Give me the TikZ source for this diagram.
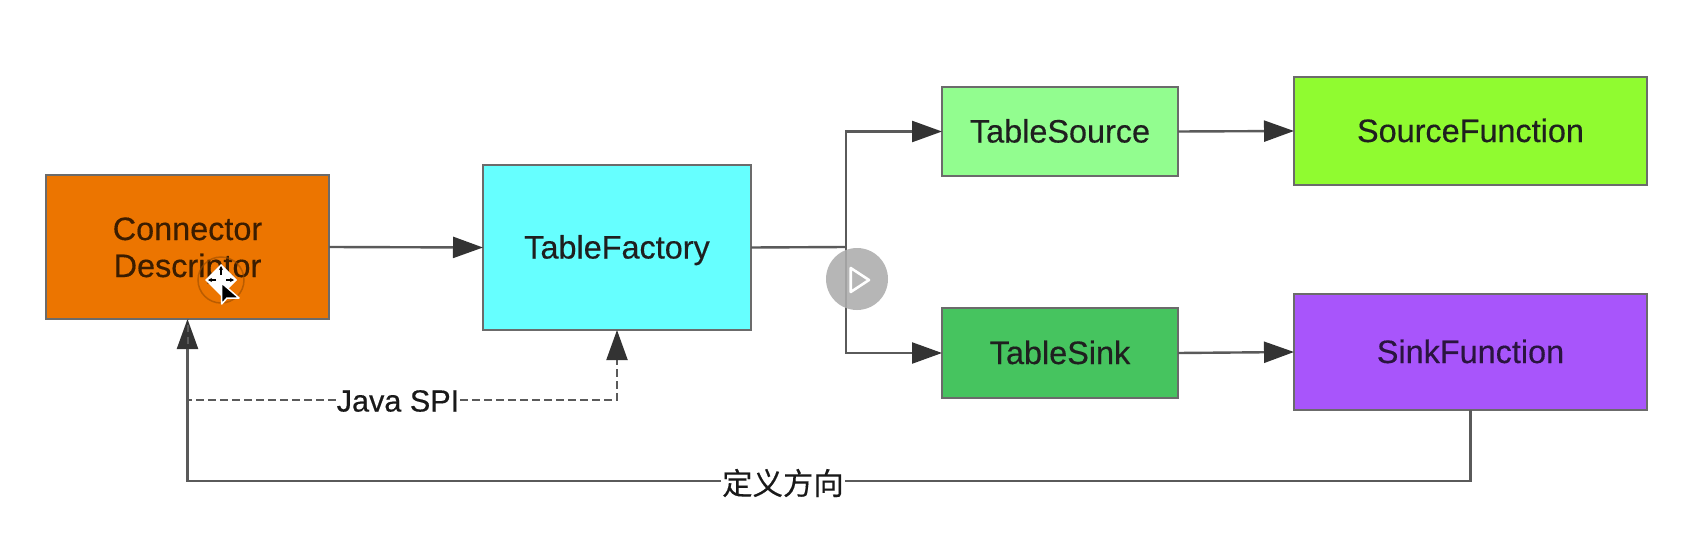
\documentclass[tikz,border=0pt]{standalone}
\usepackage{fontspec}
\setmainfont{Liberation Sans}
\newfontfamily\labfont{Liberation Sans}[FakeBold=0.4]
\newfontfamily\cjkfont{Noto Sans CJK SC}[FakeBold=0.25]
\usetikzlibrary{arrows.meta,calc}
\definecolor{edgegray}{HTML}{6B6B6B}
\definecolor{linegray}{HTML}{5A5A5A}
\definecolor{tipdark}{HTML}{333333}
\definecolor{cOrange}{HTML}{EC7500}
\definecolor{cCyan}{HTML}{66FFFF}
\definecolor{cLight}{HTML}{92FD8F}
\definecolor{cGreen}{HTML}{46C45F}
\definecolor{cLime}{HTML}{90FB30}
\definecolor{cPurple}{HTML}{A855FB}
\tikzset{
  box/.style={draw=edgegray,line width=2pt,inner sep=0pt,outer sep=0pt,align=center,text=black!88,
    text height=23pt,text depth=1pt,
    font=\labfont\fontsize{32.4}{37}\selectfont},
  conn/.style={draw=linegray,line width=2.4pt},
  tipconn/.style={conn,-{Stealth[length=30pt,width=21pt,inset=0pt,color=tipdark]}},
  dashconn/.style={draw=linegray,line width=2pt,dash pattern=on 7.5pt off 4.5pt},
  lab/.style={fill=white,inner sep=1pt,text=black!90,font=\labfont\fontsize{30.6}{36}\selectfont}
}
\begin{document}
\begin{tikzpicture}[x=1pt,y=-1pt]
\useasboundingbox[fill=white] (0,0) rectangle (1698,543);
\node[box,fill=cOrange,minimum width=283pt,minimum height=144pt,text=black!75!cOrange,text height=60pt,text depth=0pt] (conn) at (187.5,247) {Connector\\Descriptor};
\node[box,fill=cCyan,minimum width=268pt,minimum height=165pt] (fact) at (617,247.5) {TableFactory};
\node[box,fill=cLight,minimum width=236pt,minimum height=89pt] (tsrc) at (1060,131.5) {TableSource};
\node[box,fill=cGreen,minimum width=236pt,minimum height=90pt] (tsnk) at (1060,353) {TableSink};
\node[box,fill=cLime,minimum width=353pt,minimum height=107pt] (sfun) at (1470.5,131) {SourceFunction};
\node[box,fill=cPurple,minimum width=353pt,minimum height=116pt,text=black!75!cPurple] (kfun) at (1470.5,352) {SinkFunction};

\coordinate (fork) at (846,247);
\coordinate (backR) at (kfun.south |- 0,481);
\coordinate (backL) at (conn.south |- 0,481);
\coordinate (dashL) at (conn.south |- 0,400);
\coordinate (dashR) at (fact.south |- 0,400);

\draw[tipconn] (conn.east) -- (fact.west);
\draw[conn] (fact.east) -- (fork);
\draw[tipconn] (fork) |- (tsrc.west);
\draw[tipconn] (fork) |- (tsnk.west);
\draw[tipconn] (tsrc.east) -- (sfun.west);
\draw[tipconn] (tsnk.east) -- (kfun.west);

\node[lab] (spi) at (398,401) {Java SPI};
\node[lab,font=\cjkfont\fontsize{30.4}{36}\selectfont] (dir) at (783,483) {定义方向};

\draw[conn] (kfun.south) -- (backR) -- (backR -| dir.east);
\draw[tipconn] (backL -| dir.west) -- (backL) -- (conn.south);
\draw[dashconn] (dashL -| spi.west) -- (dashL) -- (conn.south);
\draw[dashconn,-{Stealth[length=30pt,width=21pt,inset=0pt,color=tipdark]}] (dashR -| spi.east) -- (dashR) -- (fact.south);

% video player overlay
\node[circle,fill=black!32,fill opacity=.88,minimum size=62pt,inner sep=0pt] (play) at (857,279) {};
\draw[white,line width=2.6pt,line join=round] (850.7,268) -- (850.7,292) -- (869,280) -- cycle;

% mouse pointer overlay
\draw[black!35!cOrange,line width=1.5pt,opacity=.6] (221,280) circle (23);
\fill[white] (221,264) -- (237,280) -- (221,296) -- (205,280) -- cycle;
\draw[black,line width=1.2pt,-{Stealth[length=4pt,width=4pt]}] (221,275) -- (221,266);
\draw[black,line width=1.2pt,-{Stealth[length=4pt,width=4pt]}] (216,280) -- (208,280);
\draw[black,line width=1.2pt,-{Stealth[length=4pt,width=4pt]}] (226,280) -- (234,280);
\fill[black,draw=white,line width=1.5pt,line join=round] (221.7,283) -- (221.7,304) -- (227,298) -- (239,298) -- cycle;
\end{tikzpicture}
\end{document}
